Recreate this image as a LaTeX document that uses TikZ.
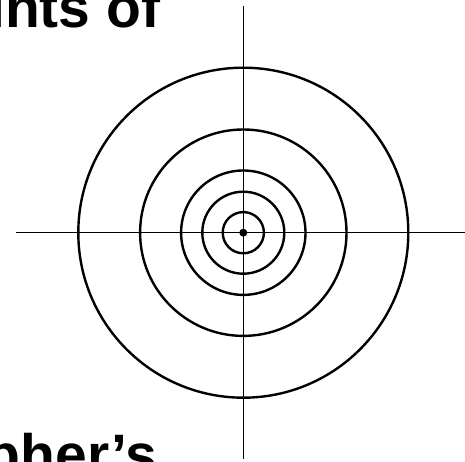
\documentclass[tikz,border=0pt]{standalone}
\usepackage{fontspec}
\setmainfont{Liberation Sans}
\begin{document}
\begin{tikzpicture}[x=1pt,y=1pt,
  ring/.style={draw=black,line width=2.4pt},
  axis/.style={draw=black,line width=1.6pt},
  title/.style={font=\fontsize{57}{62}\selectfont\bfseries,inner sep=0pt}]
\useasboundingbox (0,0) rectangle (465,462);
\clip (0,0) rectangle (465,462);
\coordinate (c) at (243.3,229.3);
\coordinate (vt) at (243.3,456);
\coordinate (vb) at (243.3,3);
\coordinate (hl) at (16,229.3);
\coordinate (hr) at (465,229.3);
\draw[axis] (vt) -- (vb);
\draw[axis] (hl) -- (hr);
\foreach \r/\n in {165/r1,103.2/r2,62.2/r3,41/r4,20.6/r5}
  \node[ring,circle,minimum size=2*\r pt,inner sep=0pt] (\n) at (c) {};
\fill[black] (c) circle (4);
\node[title,anchor=base west] (t1) at (-11,434) {ints of};
\node[title,anchor=base east] (t2) at (157,-12.6) {pher’s};
\end{tikzpicture}
\end{document}
